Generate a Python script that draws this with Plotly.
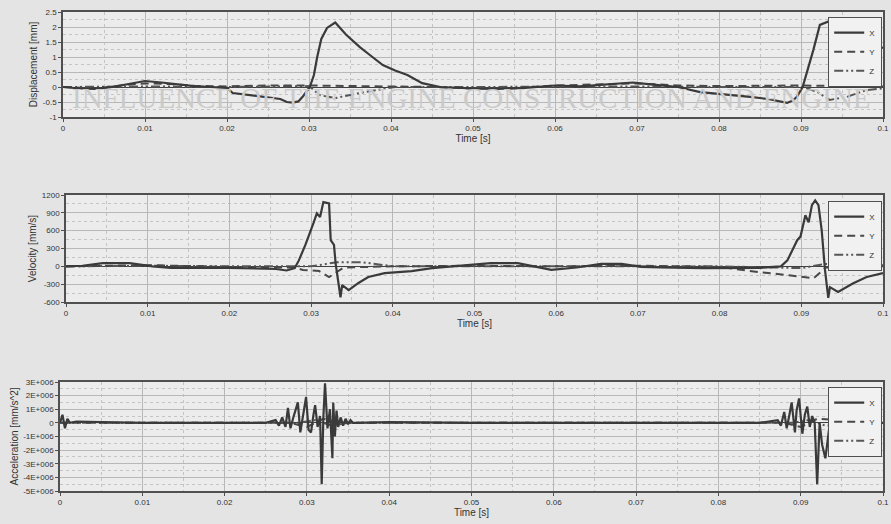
import plotly.graph_objects as go

# ---------------- Data ----------------
# Displacement [mm]
disp_x_t = [0, 0.002, 0.004, 0.006, 0.008, 0.010, 0.012, 0.014, 0.016, 0.018, 0.020, 0.0207,
            0.0225, 0.0249, 0.0265, 0.0273, 0.028, 0.0287, 0.0293, 0.0301, 0.0306, 0.031, 0.0315,
            0.0322, 0.0332, 0.0345, 0.0362, 0.0375, 0.039, 0.0405, 0.042, 0.0438, 0.046, 0.050,
            0.053, 0.056, 0.060, 0.063, 0.066, 0.0695, 0.072, 0.075, 0.0777, 0.081, 0.0838,
            0.086, 0.0875, 0.0883, 0.089, 0.0895, 0.0902, 0.0908, 0.0915, 0.0923, 0.0935, 0.095,
            0.0975, 0.100]
disp_x_v = [0, -0.05, -0.06, 0.0, 0.1, 0.2, 0.15, 0.08, 0.03, 0.0, -0.03, -0.2,
            -0.26, -0.33, -0.4, -0.5, -0.52, -0.48, -0.3, 0.0, 0.4, 1.0, 1.6,
            1.97, 2.15, 1.75, 1.33, 1.05, 0.73, 0.55, 0.4, 0.13, 0.0, -0.05,
            -0.06, -0.04, 0.05, 0.02, 0.08, 0.15, 0.08, 0.0, -0.17, -0.25, -0.33,
            -0.4, -0.5, -0.53, -0.45, -0.33, 0.0, 0.55, 1.23, 2.07, 2.2, 1.9,
            1.5, 1.3]
disp_y_t = [0, 0.004, 0.008, 0.010, 0.013, 0.016, 0.020, 0.025, 0.030, 0.035, 0.040, 0.045,
            0.050, 0.055, 0.060, 0.065, 0.070, 0.075, 0.080, 0.085, 0.090, 0.095, 0.100]
disp_y_v = [0, -0.05, 0.08, 0.12, 0.1, 0.04, 0.02, 0.05, 0.05, 0.03, 0.02, 0.0,
            -0.05, -0.04, 0.05, 0.08, 0.12, 0.05, 0.03, 0.04, 0.05, 0.03, 0.02]
disp_z_t = [0, 0.010, 0.020, 0.030, 0.0313, 0.0332, 0.0362, 0.039, 0.0405, 0.050, 0.060,
            0.070, 0.080, 0.0903, 0.092, 0.0935, 0.0956, 0.098, 0.100]
disp_z_v = [0, 0.02, 0.0, 0.03, -0.27, -0.37, -0.2, -0.07, 0.0, 0.0, 0.02,
            0.02, 0.0, 0.0, -0.17, -0.43, -0.33, -0.1, -0.05]

# Velocity [mm/s]
vel_x_t = [0, 0.002, 0.0045, 0.0078, 0.0106, 0.0128, 0.017, 0.020, 0.0257, 0.027, 0.028,
           0.0285, 0.0293, 0.0297, 0.0303, 0.0307, 0.0311, 0.0315, 0.0322, 0.0324, 0.0328,
           0.033, 0.0336, 0.0338, 0.0346, 0.0358, 0.037, 0.039, 0.0423, 0.0448, 0.0472,
           0.052, 0.0553, 0.0594, 0.0625, 0.0655, 0.068, 0.0704, 0.0728, 0.078, 0.085,
           0.0875, 0.0883, 0.0889, 0.0895, 0.0899, 0.0905, 0.0909, 0.0913, 0.0917, 0.0921,
           0.0925, 0.0929, 0.0933, 0.0935, 0.0945, 0.0963, 0.098, 0.100]
vel_x_v = [0, 10, 55, 55, 0, -25, -25, -25, -45, -70, -30,
           100, 360, 500, 730, 890, 830, 1080, 1060, 440, 360,
           50, -520, -315, -400, -280, -180, -115, -80, -30, 0,
           55, 55, -60, -20, 40, 40, -10, -20, -30, -25,
           0, 100, 270, 440, 500, 860, 740, 1030, 1110, 1030,
           600, -60, -530, -350, -430, -290, -180, -115]
vel_y_t = [0, 0.010, 0.020, 0.028, 0.029, 0.031, 0.0322, 0.034, 0.040, 0.050, 0.060, 0.070,
           0.080, 0.085, 0.0885, 0.0915, 0.093, 0.100]
vel_y_v = [0, 20, -10, -20, -60, -80, -180, -20, 0, 10, 0, 10,
           -10, -100, -150, -200, -20, 0]
vel_z_t = [0, 0.010, 0.020, 0.030, 0.0332, 0.0362, 0.040, 0.050, 0.060, 0.070, 0.080,
           0.090, 0.093, 0.0966, 0.100]
vel_z_v = [0, 10, 0, 0, 70, 70, 0, 0, 0, 0, 0,
           -30, 40, 40, 20]

# Acceleration [mm/s^2]
acc_x_t = [0, 0.0003, 0.0006, 0.0009, 0.0012, 0.002, 0.005, 0.010, 0.020, 0.025, 0.0262,
           0.0266, 0.027, 0.0274, 0.0277, 0.028, 0.0284, 0.0289, 0.0292, 0.0296, 0.0299,
           0.0302, 0.0305, 0.0308, 0.031, 0.0313, 0.0316, 0.0318, 0.032, 0.0322, 0.0325,
           0.0328, 0.0331, 0.0332, 0.0334, 0.0336, 0.0338, 0.0341, 0.0344, 0.0347, 0.035,
           0.0353, 0.0356, 0.036, 0.040, 0.050, 0.060, 0.070, 0.080, 0.085, 0.0872,
           0.0876, 0.088, 0.0883, 0.0886, 0.0889, 0.0893, 0.0895, 0.0898, 0.0902, 0.0905,
           0.0908, 0.0911, 0.0914, 0.0917, 0.092, 0.0923, 0.0926, 0.093, 0.0935, 0.094, 0.100]
acc_x_v = [0, 6e5, -4e5, 3e5, 0, 1e5, 5e4, 0, 0, 0, 2e5,
           -2e5, 4e5, -3e5, 1.1e6, -4e5, 5e5, 1.5e6, -7e5, 8e5, 1.9e6,
           -5e5, -7e5, 6e5, 1.3e6, -3e5, 5e5, -4.5e6, 4e5, 2.9e6, -4e5,
           1.0e6, -2.6e6, 1.5e6, -1.0e6, 9e5, -3e5, 4e5, -2e5, 3e5, -1e5,
           2e5, 0, 0, 5e4, 0, 0, 0, 0, 0, 2e5,
           -2e5, 8e5, -4e5, 5e5, 1.5e6, -7e5, 9e5, 1.8e6, -8e5, 6e5,
           1.2e6, -3e5, 5e5, 0, -4.5e6, 0, -1.6e6, -2.6e6, -2e5, 0, 0]
acc_y_t = [0, 0.028, 0.030, 0.032, 0.034, 0.050, 0.088, 0.090, 0.092, 0.100]
acc_y_v = [0, 0, -3e5, 3e5, 0, 0, 0, -3e5, 3e5, 0]
acc_z_t = [0, 0.029, 0.031, 0.033, 0.035, 0.060, 0.089, 0.091, 0.093, 0.100]
acc_z_v = [0, 0, 2e5, -2e5, 0, 0, 0, 2e5, -2e5, 0]

series_names = ["X", "Y", "Z"]
x_ticks = [0, 0.01, 0.02, 0.03, 0.04, 0.05, 0.06, 0.07, 0.08, 0.09, 0.1]
disp_ticks = [-1, -0.5, 0, 0.5, 1, 1.5, 2, 2.5]
vel_ticks = [-600, -300, 0, 300, 600, 900, 1200]
acc_ticks = [-5e6, -4e6, -3e6, -2e6, -1e6, 0, 1e6, 2e6, 3e6]
acc_tick_text = ["-5E+006", "-4E+006", "-3E+006", "-2E+006", "-1E+006", "0",
                 "1E+006", "2E+006", "3E+006"]

# ---------------- Figure ----------------
W, H = 891, 524
FONT = "Liberation Sans, Arial, sans-serif"
styles = {
    "X": dict(color="#3a3a3a", width=2.2, dash="solid"),
    "Y": dict(color="#484848", width=2.0, dash="8px,5px"),
    "Z": dict(color="#565656", width=2.0, dash="9px,3px,2px,3px,2px,3px"),
}

fig = go.Figure()
panels = [
    ("", [(disp_x_t, disp_x_v), (disp_y_t, disp_y_v), (disp_z_t, disp_z_v)], "legend"),
    ("2", [(vel_x_t, vel_x_v), (vel_y_t, vel_y_v), (vel_z_t, vel_z_v)], "legend2"),
    ("3", [(acc_x_t, acc_x_v), (acc_y_t, acc_y_v), (acc_z_t, acc_z_v)], "legend3"),
]
for suffix, data, leg in panels:
    for name, (t, v) in reversed(list(zip(series_names, data))):
        fig.add_trace(go.Scatter(
            x=t, y=v, mode="lines", name=name, line=styles[name],
            xaxis="x" + suffix, yaxis="y" + suffix, legend=leg,
            legendrank={"X": 1, "Y": 2, "Z": 3}[name],
        ))


def px_x(p):
    return p / W


def px_y(p):
    return 1 - p / H


common_x = dict(
    range=[0, 0.1], tickvals=x_ticks, ticktext=[str(v) for v in x_ticks],
    showline=True, mirror=True, linecolor="#505050", linewidth=1.5,
    ticks="outside", ticklen=3, tickcolor="#505050",
    showgrid=True, gridcolor="#b8b8b8", gridwidth=1,
    minor=dict(dtick=0.005, tick0=0, showgrid=True, gridcolor="#c4c4c4",
               griddash="dot", ticks=""),
    zeroline=False, automargin=False,
    tickfont=dict(size=8, color="#333", family=FONT),
    title=dict(text="Time [s]", font=dict(size=10, color="#333", family=FONT), standoff=1),
)
common_y = dict(
    showline=True, mirror=True, linecolor="#505050", linewidth=1.5,
    ticks="outside", ticklen=3, tickcolor="#505050",
    showgrid=True, gridcolor="#b8b8b8", gridwidth=1,
    zeroline=True, zerolinecolor="#404040", zerolinewidth=1.2, automargin=False,
    tickfont=dict(size=8, color="#333", family=FONT),
)

lay = dict(
    width=W, height=H, margin=dict(l=0, r=0, t=0, b=0, autoexpand=False),
    paper_bgcolor="#e4e4e4", plot_bgcolor="#ececec",
    font=dict(family=FONT, color="#333"),
    xaxis=dict(common_x, domain=[px_x(63), px_x(883)], anchor="y"),
    yaxis=dict(common_y, domain=[px_y(117), px_y(12)], anchor="x", range=[-1, 2.5],
               tickvals=disp_ticks, ticktext=[str(v) for v in disp_ticks],
               minor=dict(dtick=0.25, tick0=0, showgrid=True, gridcolor="#c4c4c4",
                          griddash="dot", ticks=""),
               title=dict(text="Displacement [mm]", font=dict(size=10, family=FONT), standoff=3)),
    xaxis2=dict(common_x, domain=[px_x(66), px_x(883)], anchor="y2"),
    yaxis2=dict(common_y, domain=[px_y(302), px_y(195)], anchor="x2", range=[-600, 1200],
                tickvals=vel_ticks, ticktext=[str(v) for v in vel_ticks],
                minor=dict(dtick=150, tick0=0, showgrid=True, gridcolor="#c4c4c4",
                           griddash="dot", ticks=""),
                title=dict(text="Velocity [mm/s]", font=dict(size=10, family=FONT), standoff=3)),
    xaxis3=dict(common_x, domain=[px_x(60), px_x(883)], anchor="y3"),
    yaxis3=dict(common_y, domain=[px_y(491), px_y(382)], anchor="x3", range=[-5e6, 3e6],
                tickvals=acc_ticks, ticktext=acc_tick_text,
                minor=dict(dtick=5e5, tick0=0, showgrid=True, gridcolor="#c4c4c4",
                           griddash="dot", ticks=""),
                title=dict(text="Acceleration [mm/s^2]", font=dict(size=10, family=FONT), standoff=3)),
    showlegend=True,
)
leg_common = dict(
    x=px_x(882), xanchor="right", yanchor="top",
    bgcolor="#f1f1f1", bordercolor="#505050", borderwidth=1.2,
    font=dict(size=8, family=FONT, color="#333"),
    tracegroupgap=0, itemwidth=30,
)
lay["legend"] = dict(leg_common, y=px_y(17))
lay["legend2"] = dict(leg_common, y=px_y(201))
lay["legend3"] = dict(leg_common, y=px_y(387))

# faint show-through text of the scanned page (inside the first plot area)
lay["annotations"] = [
    dict(text="INFLUENCE OF THE ENGINE CONSTRUCTION AND ENGINE", xref="paper", yref="paper",
         x=px_x(70), y=px_y(98), xanchor="left", yanchor="middle", showarrow=False,
         font=dict(size=29, family="Liberation Serif, serif", color="#cacaca")),
]
fig.update_layout(**lay)
fig.write_html(
    "out.html",
    config={"displayModeBar": False},
    post_script="document.body.style.margin='0';document.body.style.background='#e4e4e4';",
)
